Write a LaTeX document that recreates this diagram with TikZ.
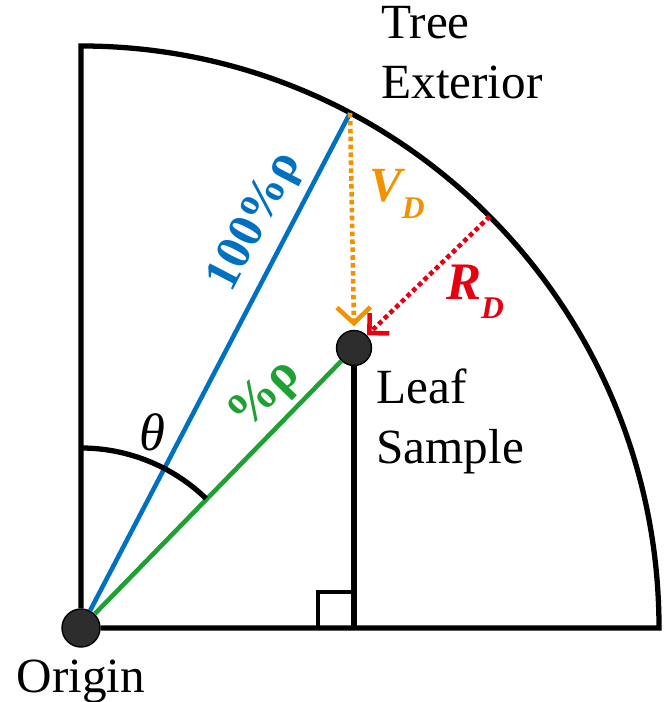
\documentclass[tikz,border=0pt]{standalone}
\usepackage{fontspec}
\setmainfont{LiberationSerif}[
  Extension=.ttf,
  UprightFont=*-Regular,
  BoldFont=*-Bold,
  ItalicFont=*-Italic,
  BoldItalicFont=*-BoldItalic]
\usetikzlibrary{arrows.meta,calc}

\definecolor{rhoblue}{RGB}{0,112,192}
\definecolor{rhogreen}{RGB}{30,160,50}
\definecolor{vdorange}{RGB}{243,146,0}
\definecolor{rdred}{RGB}{230,0,18}
\definecolor{dotgray}{RGB}{45,45,45}

\newcommand{\dsub}[2]{#1\raisebox{-0.35em}{\fontsize{18}{18}\selectfont #2}}

\begin{document}
\begin{tikzpicture}[x=0.02cm,y=0.02cm,>=Straight Barb,font=\fontsize{28}{34}\selectfont]
\tikzset{
  boundary/.style={line width=3pt},
  dot/.style={circle,fill=dotgray,draw=black,line width=0.8pt,inner sep=0pt,minimum size=#1},
  ray/.style={line width=2.6pt},
  dotline/.style={line width=2.6pt,dash pattern=on 2.6pt off 1.9pt},
  word/.style={inner sep=0pt,align=left},
}
\useasboundingbox (-81,-74) rectangle (590,628);

\node[dot=0.76cm] (origin) at (0,0) {};
\node[dot=0.70cm] (leaf) at (273,280) {};
\coordinate (top) at (0,582);
\coordinate (exterior) at (62.25:578 and 582);
\coordinate (rdstart) at (45:578 and 582);
\coordinate (foot) at (leaf |- origin);

% quarter of the trunk
\draw[boundary] (origin) -- (top) arc[start angle=90,end angle=0,x radius=578,y radius=582] -- (origin);
\draw[boundary] (leaf) -- (foot);
\draw[line width=2.6pt] (foot) ++(-36,0) -- ++(0,36) -- ++(36,0);

% rays
\draw[ray,rhoblue] (origin) -- (exterior)
  node[pos=0.75,sloped,above,inner sep=5pt,font=\fontsize{28}{34}\selectfont\bfseries] (fullrho) {100\%ρ};
\draw[ray,rhogreen] (origin) -- (leaf)
  node[pos=0.78,sloped,above,inner sep=3pt,font=\fontsize{29}{34}\selectfont\bfseries] (partrho) {\%ρ};

% distances
\draw[dotline,vdorange,-{Straight Barb[length=9pt,width=19pt,line width=2.6pt]}] (exterior) -- ([yshift=2]leaf.north);
\draw[dotline,rdred,-{Straight Barb[length=8pt,width=16pt,line width=2.6pt]}] (rdstart) -- (leaf);

% angle
\draw[boundary] (0,180) arc[start angle=90,end angle=46,radius=180];
\node[word,font=\fontsize{30}{34}\selectfont] (theta) at (71,196) {\textit{θ}};

\node[word,text=vdorange,font=\fontsize{28}{34}\selectfont\bfseries\itshape] (vd) at (316,434) {\dsub{V}{D}};
\node[word,text=rdred,font=\fontsize{30}{34}\selectfont\bfseries\itshape] (rd) at (394,336) {\dsub{R}{D}};

\node[word,anchor=north west] (treeext) at (300,622) {Tree\\Exterior};
\node[word,anchor=north west] (leafsample) at (295,259) {Leaf\\Sample};
\node[word,anchor=base] (originlabel) at (0,-64) {Origin};
\end{tikzpicture}
\end{document}
